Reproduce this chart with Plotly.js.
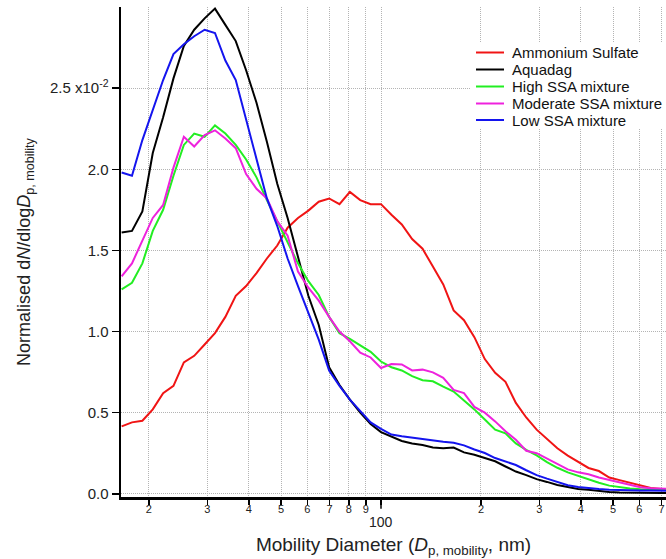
<!DOCTYPE html>
<html>
<head>
<meta charset="utf-8">
<script src="https://cdn.plot.ly/plotly-3.0.1.min.js"></script>
<style>html,body{margin:0;padding:0;background:#fff;}#chart{width:666px;height:559px;}</style>
</head>
<body>
<div id="chart"></div>
<script>
// Mobility diameter bins (nm)
const diameters = [16.55, 17.78, 19.11, 20.54, 22.07, 23.71, 25.48, 27.38, 29.43, 31.62,
  33.98, 36.52, 39.24, 42.17, 45.32, 48.70, 52.33, 56.23, 60.43, 64.94,
  69.78, 74.99, 80.58, 86.60, 93.06, 100.0, 107.5, 115.5, 124.1, 133.4,
  143.3, 154.0, 165.5, 177.8, 191.1, 205.4, 220.7, 237.1, 254.8, 273.8,
  294.3, 316.2, 339.8, 365.2, 392.4, 421.7, 453.2, 487.0, 523.3, 562.3,
  604.3, 649.4, 697.8, 749.9];

// Normalised dN/dlogDp values, in units of 1e-2
const ammoniumSulfate = [0.415, 0.44, 0.45, 0.52, 0.62, 0.665, 0.81, 0.85, 0.92, 0.99,
  1.09, 1.22, 1.28, 1.36, 1.45, 1.53, 1.64, 1.70, 1.745, 1.80,
  1.82, 1.785, 1.86, 1.81, 1.785, 1.785, 1.72, 1.66, 1.57, 1.51,
  1.40, 1.29, 1.13, 1.07, 0.965, 0.83, 0.745, 0.69, 0.56, 0.47,
  0.395, 0.335, 0.28, 0.235, 0.195, 0.159, 0.14, 0.10, 0.084, 0.068,
  0.048, 0.036, 0.030, 0.028];
const aquadag = [1.61, 1.62, 1.74, 2.10, 2.32, 2.56, 2.76, 2.86, 2.93, 2.99,
  2.89, 2.79, 2.61, 2.41, 2.17, 1.91, 1.70, 1.46, 1.22, 1.04,
  0.78, 0.67, 0.58, 0.50, 0.43, 0.38, 0.35, 0.325, 0.31, 0.30,
  0.285, 0.28, 0.285, 0.255, 0.24, 0.22, 0.20, 0.168, 0.137, 0.115,
  0.09, 0.073, 0.054, 0.042, 0.030, 0.024, 0.017, 0.011, 0.008, 0.006,
  0.005, 0.004, 0.004, 0.004];
const highSSA = [1.26, 1.30, 1.42, 1.62, 1.75, 1.96, 2.15, 2.22, 2.20, 2.27,
  2.22, 2.15, 2.06, 1.95, 1.81, 1.68, 1.54, 1.42, 1.31, 1.225,
  1.09, 0.99, 0.955, 0.915, 0.875, 0.815, 0.78, 0.76, 0.725, 0.70,
  0.693, 0.66, 0.63, 0.575, 0.52, 0.458, 0.395, 0.372, 0.31, 0.27,
  0.237, 0.195, 0.16, 0.132, 0.11, 0.086, 0.068, 0.05, 0.039, 0.032,
  0.027, 0.025, 0.025, 0.025];
const moderateSSA = [1.34, 1.42, 1.56, 1.70, 1.78, 2.01, 2.20, 2.14, 2.21, 2.24,
  2.19, 2.13, 1.97, 1.88, 1.82, 1.68, 1.59, 1.37, 1.27, 1.19,
  1.09, 1.00, 0.94, 0.87, 0.84, 0.775, 0.80, 0.797, 0.76, 0.765,
  0.748, 0.714, 0.64, 0.62, 0.535, 0.50, 0.446, 0.385, 0.333, 0.265,
  0.25, 0.215, 0.182, 0.15, 0.132, 0.12, 0.10, 0.085, 0.068, 0.054,
  0.04, 0.034, 0.029, 0.029];
const lowSSA = [1.98, 1.96, 2.18, 2.37, 2.55, 2.71, 2.77, 2.82, 2.86, 2.84,
  2.67, 2.55, 2.31, 2.06, 1.82, 1.65, 1.45, 1.28, 1.11, 0.95,
  0.76, 0.665, 0.58, 0.51, 0.44, 0.40, 0.365, 0.354, 0.345, 0.338,
  0.325, 0.32, 0.314, 0.298, 0.273, 0.251, 0.22, 0.199, 0.177, 0.145,
  0.115, 0.093, 0.072, 0.053, 0.042, 0.034, 0.029, 0.025, 0.022, 0.02,
  0.02, 0.02, 0.019, 0.019];

const seriesNames = ["Ammonium Sulfate", "Aquadag", "High SSA mixture", "Moderate SSA mixture", "Low SSA mixture"];
const seriesValues = [ammoniumSulfate, aquadag, highSSA, moderateSSA, lowSSA];
const seriesColors = ["#f01414", "#000000", "#22ee22", "#ee22dd", "#1414ee"];

const xTickVals = [20, 30, 40, 50, 60, 70, 80, 90, 100, 200, 300, 400, 500, 600, 700];
const xTickText = ["2", "3", "4", "5", "6", "7", "8", "9", "", "2", "3", "4", "5", "6", "7"];
const yTickVals = [0, 0.5, 1.0, 1.5, 2.0, 2.5];
const yTickText = ["0.0", "0.5", "1.0", "1.5", "2.0", "2.5 x10<sup>-2</sup>"];

const font = "Liberation Sans, Arial, sans-serif";

// plot area geometry (px) used to place the hand-drawn legend
const PL = 121, PR = 666, PT = 7, PB = 497;
const px = v => (v - PL) / (PR - PL);
const py = v => (PB - v) / (PB - PT);

const traces = seriesNames.map((n, i) => ({
  x: diameters, y: seriesValues[i], name: n, type: "scatter", mode: "lines",
  line: {color: seriesColors[i], width: 2}, showlegend: false
}));

const legendRows = [52.5, 69.5, 86.5, 103.5, 120];
const shapes = [
  {type: "line", xref: "x", yref: "paper", x0: 100, x1: 100, y0: 0, y1: -0.024,
    line: {color: "#000", width: 1.5}},
  {type: "rect", xref: "paper", yref: "paper", x0: px(471), x1: 1.0, y0: py(129), y1: py(42),
    fillcolor: "#fff", line: {width: 0}, layer: "above"}
];
const annotations = [{text: "100", xref: "x", yref: "paper", x: 2, y: -0.03, xanchor: "center", yanchor: "top",
    showarrow: false, font: {size: 14, color: "#222", family: font}}];
seriesNames.forEach((n, i) => {
  shapes.push({type: "line", xref: "paper", yref: "paper", x0: px(476), x1: px(504),
    y0: py(legendRows[i]), y1: py(legendRows[i]), line: {color: seriesColors[i], width: 2}, layer: "above"});
  annotations.push({text: n, xref: "paper", yref: "paper", x: px(510), y: py(legendRows[i]),
    xanchor: "left", yanchor: "middle", showarrow: false, font: {size: 15, color: "#111", family: font}});
});

const layout = {
  width: 666, height: 559,
  margin: {l: PL, r: 666 - PR, t: PT, b: 559 - PB, pad: 0},
  paper_bgcolor: "#fff", plot_bgcolor: "#fff",
  font: {family: font, color: "#222"},
  showlegend: false,
  xaxis: {
    type: "log", range: [1.2169, 2.8584],
    tickmode: "array", tickvals: xTickVals, ticktext: xTickText,
    tickfont: {size: 11, color: "#222"}, ticklabelstandoff: -5,
    ticks: "outside", ticklen: 5, tickwidth: 1.5, tickcolor: "#000",
    showline: true, linecolor: "#000", linewidth: 2.5,
    showgrid: true, gridcolor: "#b4b4b4", gridwidth: 1, griddash: "1px,1px",
    zeroline: false,
    title: {text: "Mobility Diameter (<i>D</i><sub>p, mobility</sub>, nm)", font: {size: 19, color: "#222"}, standoff: 24}
  },
  yaxis: {
    range: [-0.02, 3.0],
    tickmode: "array", tickvals: yTickVals, ticktext: yTickText,
    tickfont: {size: 15, color: "#222"},
    ticks: "outside", ticklen: 7, tickwidth: 1.5, tickcolor: "#000",
    showline: true, linecolor: "#000", linewidth: 2.5,
    showgrid: true, gridcolor: "#b4b4b4", gridwidth: 1, griddash: "1px,1px",
    zeroline: false,
    title: {text: "Normalised d<i>N</i>/dlog<i>D</i><sub>p, mobility</sub>", font: {size: 18, color: "#222"}, standoff: 15}
  },
  shapes: shapes,
  annotations: annotations
};

Plotly.newPlot("chart", traces, layout, {displayModeBar: false, staticPlot: true});
</script>
</body>
</html>
